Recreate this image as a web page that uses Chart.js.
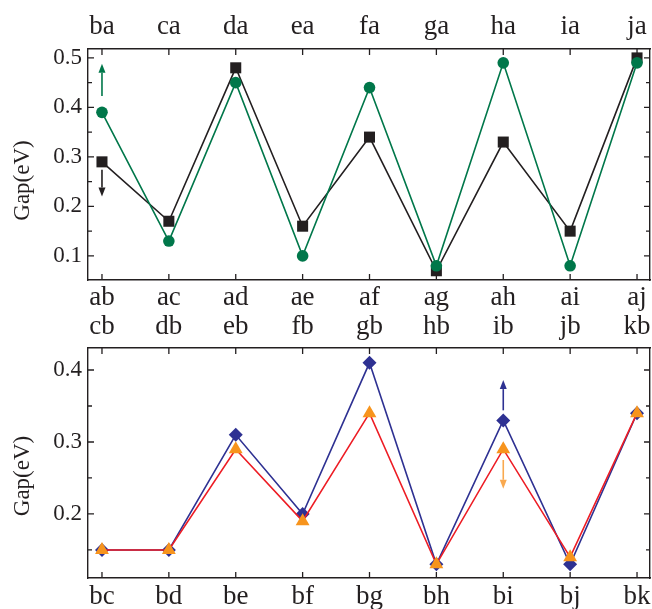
<!DOCTYPE html>
<html>
<head>
<meta charset="utf-8">
<script src="https://cdn.jsdelivr.net/npm/chart.js@4.4.0/dist/chart.umd.min.js"></script>
<style>
  html, body { margin: 0; padding: 0; background: #fff; }
  #wrap { position: relative; width: 652px; height: 609px; }
  canvas { position: absolute; left: 0; }
  #topChart { top: 0; }
  #bottomChart { top: 300px; }
</style>
</head>
<body>
<div id="wrap">
  <canvas id="topChart" width="652" height="318"></canvas>
  <canvas id="bottomChart" width="652" height="309"></canvas>
</div>
<script>
// category labels
const topUpperLabels = ['ba', 'ca', 'da', 'ea', 'fa', 'ga', 'ha', 'ia', 'ja'];
const topLowerLabels = ['ab', 'ac', 'ad', 'ae', 'af', 'ag', 'ah', 'ai', 'aj'];
const bottomUpperLabels = ['cb', 'db', 'eb', 'fb', 'gb', 'hb', 'ib', 'jb', 'kb'];
const bottomLowerLabels = ['bc', 'bd', 'be', 'bf', 'bg', 'bh', 'bi', 'bj', 'bk'];

// top panel values (eV)
const squareGap = [0.29, 0.17, 0.48, 0.16, 0.34, 0.07, 0.33, 0.15, 0.50];
const circleGap = [0.39, 0.13, 0.45, 0.10, 0.44, 0.08, 0.49, 0.08, 0.49];
const topYTicks = [0.1, 0.2, 0.3, 0.4, 0.5];
const topYMinor = [0.15, 0.25, 0.35, 0.45];
// arrows: [category index, from, to]
const circleArrow = [0, 0.423, 0.488];
const squareArrow = [0, 0.274, 0.22];

// bottom panel values (eV)
const diamondGap = [0.15, 0.15, 0.31, 0.20, 0.41, 0.13, 0.33, 0.13, 0.34];
const triangleGap = [0.15, 0.15, 0.29, 0.19, 0.34, 0.13, 0.29, 0.14, 0.34];
const bottomYTicks = [0.2, 0.3, 0.4];
const bottomYMinor = [0.15, 0.25, 0.35];
const diamondArrow = [6, 0.344, 0.386];
const triangleArrow = [6, 0.275, 0.235];

const INK = '#231f20';
const GREEN = '#00774a';
const BLUE = '#2e3192';
const RED = '#ed1c24';
const ORANGE = '#f7941d';
const FONT = '"Liberation Serif", "Times New Roman", serif';

Chart.defaults.font.family = FONT;
Chart.defaults.color = INK;

function toPoints(values) {
    return values.map((v, i) => ({ x: i, y: v }));
}

function drawArrow(ctx, x, y0, y1, color) {
    const dir = y1 < y0 ? -1 : 1;
    const head = 9;
    ctx.strokeStyle = color;
    ctx.fillStyle = color;
    ctx.lineWidth = 1.6;
    ctx.beginPath();
    ctx.moveTo(x, y0);
    ctx.lineTo(x, y1 - dir * head);
    ctx.stroke();
    ctx.beginPath();
    ctx.moveTo(x, y1);
    ctx.lineTo(x - 3.5, y1 - dir * head);
    ctx.lineTo(x + 3.5, y1 - dir * head);
    ctx.closePath();
    ctx.fill();
}

// inward tick marks, arrows and the y title
const framePlugin = {
    id: 'frameTicks',
    afterDatasetsDraw(chart, args, opts) {
        const { ctx, chartArea: a, scales } = chart;
        const x = scales.x, y = scales.y;
        ctx.save();
        ctx.strokeStyle = INK;
        ctx.lineWidth = 1.3;
        ctx.beginPath();
        x.ticks.forEach(t => {
            const px = x.getPixelForValue(t.value);
            ctx.moveTo(px, a.top); ctx.lineTo(px, a.top + 6);
            ctx.moveTo(px, a.bottom); ctx.lineTo(px, a.bottom - 6);
        });
        opts.major.forEach(v => {
            const py = y.getPixelForValue(v);
            ctx.moveTo(a.left, py); ctx.lineTo(a.left + 6, py);
            ctx.moveTo(a.right, py); ctx.lineTo(a.right - 6, py);
        });
        opts.minor.forEach(v => {
            const py = y.getPixelForValue(v);
            ctx.moveTo(a.left, py); ctx.lineTo(a.left + 4, py);
            ctx.moveTo(a.right, py); ctx.lineTo(a.right - 4, py);
        });
        ctx.stroke();

        opts.arrows.forEach(ar => {
            drawArrow(ctx, x.getPixelForValue(ar.data[0]),
                y.getPixelForValue(ar.data[1]), y.getPixelForValue(ar.data[2]), ar.color);
        });

        ctx.fillStyle = INK;
        ctx.font = '23px ' + FONT;
        ctx.translate(23, (a.top + a.bottom) / 2 + opts.titleShift);
        ctx.rotate(-Math.PI / 2);
        ctx.textAlign = 'center';
        ctx.textBaseline = 'middle';
        ctx.fillText('Gap(eV)', 0, 0);
        ctx.restore();
    }
};

function makePanel(id, cfg) {
    const xMin = -0.209, xMax = 8.194;
    const catTicks = scale => {
        scale.ticks = cfg.lower.map((c, i) => ({ value: i }));
    };
    const xAxis = (labels, position, height, pad) => ({
        type: 'linear',
        position: position,
        min: xMin,
        max: xMax,
        afterBuildTicks: catTicks,
        afterFit: s => { s.height = height; s.paddingLeft = 0; s.paddingRight = 0; },
        grid: { display: false, drawTicks: false },
        border: { display: true, color: INK, width: 1.4 },
        ticks: {
            autoSkip: false,
            maxRotation: 0,
            padding: pad,
            font: { size: 27 },
            color: INK,
            callback: (v, i) => labels[i]
        }
    });

    return new Chart(document.getElementById(id), {
        type: 'line',
        data: { datasets: cfg.datasets },
        options: {
            responsive: false,
            animation: false,
            devicePixelRatio: 1,
            layout: { padding: 0, autoPadding: false },
            plugins: {
                legend: { display: false },
                tooltip: { enabled: false },
                frameTicks: {
                    major: cfg.yTicks,
                    minor: cfg.yMinor,
                    arrows: cfg.arrows,
                    titleShift: cfg.titleShift
                }
            },
            scales: {
                x: xAxis(cfg.lower, 'bottom', cfg.lowerH, cfg.lowerPad),
                x2: xAxis(cfg.upper, 'top', cfg.upperH, cfg.upperPad),
                y: {
                    type: 'linear',
                    position: 'left',
                    min: cfg.yMin,
                    max: cfg.yMax,
                    afterBuildTicks: s => { s.ticks = cfg.yTicks.map(v => ({ value: v })); },
                    afterFit: s => { s.width = 88; },
                    grid: { display: false, drawTicks: false },
                    border: { display: true, color: INK, width: 1.4 },
                    ticks: {
                        padding: 6,
                        font: { size: 23 },
                        color: INK,
                        callback: v => v.toFixed(1)
                    }
                },
                y2: {
                    type: 'linear',
                    position: 'right',
                    display: true,
                    min: cfg.yMin,
                    max: cfg.yMax,
                    afterFit: s => { s.width = 2; },
                    grid: { display: false, drawTicks: false },
                    border: { display: true, color: INK, width: 1.4 },
                    ticks: { display: false }
                }
            }
        },
        plugins: [framePlugin]
    });
}

makePanel('topChart', {
    upper: topUpperLabels,
    lower: topLowerLabels,
    upperH: 49, upperPad: 6,
    lowerH: 38, lowerPad: 2,
    yMin: 0.0513, yMax: 0.518,
    yTicks: topYTicks,
    yMinor: topYMinor,
    titleShift: 16,
    arrows: [
        { data: circleArrow, color: GREEN },
        { data: squareArrow, color: INK }
    ],
    datasets: [
        {
            label: 'circle',
            data: toPoints(circleGap),
            borderColor: GREEN,
            backgroundColor: GREEN,
            borderWidth: 1.6,
            pointStyle: 'circle',
            pointRadius: 5.8,
            pointBorderWidth: 0,
            tension: 0
        },
        {
            label: 'square',
            data: toPoints(squareGap),
            borderColor: INK,
            backgroundColor: INK,
            borderWidth: 1.6,
            pointStyle: 'rect',
            pointRadius: 7.8,
            pointBorderWidth: 0,
            tension: 0
        }
    ]
});

makePanel('bottomChart', {
    upper: bottomUpperLabels,
    lower: bottomLowerLabels,
    upperH: 48, upperPad: 5,
    lowerH: 31, lowerPad: 3,
    yMin: 0.111, yMax: 0.4306,
    yTicks: bottomYTicks,
    yMinor: bottomYMinor,
    titleShift: 13,
    arrows: [
        { data: diamondArrow, color: BLUE },
        { data: triangleArrow, color: '#f9a94f' }
    ],
    datasets: [
        {
            label: 'triangle',
            data: toPoints(triangleGap),
            borderColor: RED,
            backgroundColor: ORANGE,
            borderWidth: 1.6,
            pointStyle: 'triangle',
            pointRadius: 8,
            pointBorderWidth: 0,
            tension: 0
        },
        {
            label: 'diamond',
            data: toPoints(diamondGap),
            borderColor: BLUE,
            backgroundColor: BLUE,
            borderWidth: 1.6,
            pointStyle: 'rectRot',
            pointRadius: 7,
            pointBorderWidth: 0,
            tension: 0
        }
    ]
});
</script>
</body>
</html>
